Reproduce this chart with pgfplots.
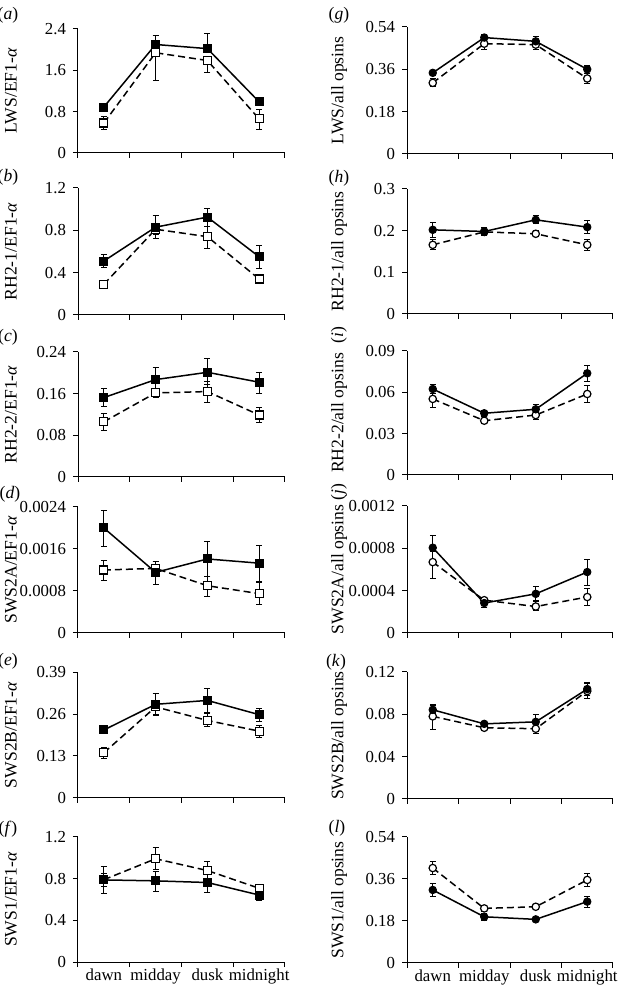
\documentclass[border=0pt]{standalone}
\usepackage{fontspec}
\setmainfont{Liberation Serif}
\usepackage{pgfplots}
\pgfplotsset{compat=1.18}
\pgfplotsset{
 base/.style={scale only axis, anchor=south west, xmin=0, xmax=4, ymin=0,
  xtick={0,1,2,3,4}, xticklabels={}, axis x line*=bottom, axis y line*=left,
  tick align=outside, major tick length=2.5pt,
  every tick/.style={black, line width=0.5pt}, axis line style={black, line width=0.5pt},
  scaled y ticks=false, clip=false,
  tick label style={font=\fontsize{8.4}{9}\selectfont},
  /pgf/number format/assume math mode=true,
  every axis y label/.style={rotate=90, anchor=center, font=\fontsize{8.8}{10}\selectfont},
 },
 L/.style={base, width=103.5pt, every axis y label/.append style={at={(axis description cs:-0.3237,0.5)}}},
 R/.style={base, width=103pt, every axis y label/.append style={at={(axis description cs:-0.330,0.5)}}},
 bottomlab/.style={x tick label as interval, xticklabels={dawn,midday,dusk,midnight}, xticklabel style={yshift=2.5pt}},
 eb/.style={error bars/.cd, y dir=both, y explicit,
   error bar style={solid, black, line width=0.45pt},
   error mark options={rotate=90, mark size=1.5pt, line width=0.45pt, solid, black}},
 FS/.style={black, solid, line width=0.75pt, mark=square*, mark size=2pt, mark options={fill=black, solid, line width=0.5pt}, eb},
 OS/.style={black, dash pattern=on 3.5pt off 2pt, line width=0.75pt, mark=square*, mark size=2pt, mark options={fill=white, solid, line width=0.6pt}, eb},
 FC/.style={black, solid, line width=0.75pt, mark=*, mark size=1.85pt, mark options={fill=black, solid, line width=0.5pt}, eb},
 OC/.style={black, dash pattern=on 3.5pt off 2pt, line width=0.75pt, mark=*, mark size=1.85pt, mark options={fill=white, solid, line width=0.6pt}, eb},
}
\newcommand{\plab}[1]{\fontsize{8.8}{10}\selectfont(\textit{#1})}
\begin{document}
\begin{tikzpicture}
\useasboundingbox (0,0) rectangle (310.5pt,492.5pt);
% (a)
\begin{axis}[L, at={(39pt,416pt)}, height=62pt, ymax=2.4, ytick={0,0.8,1.6,2.4}, yticklabels={0,0.8,1.6,2.4}, ylabel={LWS/EF1-\textit{α}}]
\addplot[OS] coordinates {(0.5,0.58) += (0,0.12) -= (0,0.13) (1.5,1.94) += (0,0.10) -= (0,0.53) (2.5,1.79) += (0,0.08) -= (0,0.23) (3.5,0.66) += (0,0.19) -= (0,0.21)};
\addplot[FS] coordinates {(0.5,0.89) += (0,0.05) -= (0,0.05) (1.5,2.10) += (0,0.18) -= (0,0.08) (2.5,2.02) += (0,0.30) -= (0,0.08) (3.5,0.99) += (0,0.05) -= (0,0.05)};
\end{axis}
% (b)
\begin{axis}[L, at={(39pt,335pt)}, height=63.5pt, ymax=1.2, ytick={0,0.4,0.8,1.2}, yticklabels={0,0.4,0.8,1.2}, ylabel={RH2-1/EF1-\textit{α}}]
\addplot[OS] coordinates {(0.5,0.29) += (0,0.02) -= (0,0.02) (1.5,0.81) += (0,0.05) -= (0,0.05) (2.5,0.74) += (0,0.10) -= (0,0.11) (3.5,0.34) += (0,0.03) -= (0,0.03)};
\addplot[FS] coordinates {(0.5,0.51) += (0,0.06) -= (0,0.06) (1.5,0.83) += (0,0.11) -= (0,0.11) (2.5,0.925) += (0,0.085) -= (0,0.085) (3.5,0.55) += (0,0.11) -= (0,0.11)};
\end{axis}
% (c)
\begin{axis}[L, at={(39pt,254pt)}, height=62.5pt, ymax=0.24, ytick={0,0.08,0.16,0.24}, yticklabels={0,0.08,0.16,0.24}, ylabel={RH2-2/EF1-\textit{α}}]
\addplot[OS] coordinates {(0.5,0.106) += (0,0.016) -= (0,0.016) (1.5,0.1615) += (0,0.008) -= (0,0.008) (2.5,0.164) += (0,0.02) -= (0,0.021) (3.5,0.119) += (0,0.014) -= (0,0.014)};
\addplot[FS] coordinates {(0.5,0.1525) += (0,0.018) -= (0,0.018) (1.5,0.187) += (0,0.024) -= (0,0.02) (2.5,0.201) += (0,0.026) -= (0,0.024) (3.5,0.182) += (0,0.019) -= (0,0.021)};
\end{axis}
% (d)
\begin{axis}[L, at={(39pt,176pt)}, height=63pt, ymax=0.0024, ytick={0,0.0008,0.0016,0.0024}, yticklabels={0,0.0008,0.0016,0.0024}, ylabel={SWS2A/EF1-\textit{α}}]
\addplot[OS] coordinates {(0.5,0.0012) += (0,0.00019) -= (0,0.00019) (1.5,0.00123) += (0,0.00014) -= (0,0.00014) (2.5,0.0009) += (0,0.00018) -= (0,0.0002) (3.5,0.00075) += (0,0.00021) -= (0,0.0002)};
\addplot[FS] coordinates {(0.5,0.0020) += (0,0.00034) -= (0,0.00035) (1.5,0.001155) += (0,0.0002) -= (0,0.00023) (2.5,0.00141) += (0,0.00033) -= (0,0.00033) (3.5,0.00133) += (0,0.00033) -= (0,0.00035)};
\end{axis}
% (e)
\begin{axis}[L, at={(39pt,93.5pt)}, height=63pt, ymax=0.39, ytick={0,0.13,0.26,0.39}, yticklabels={0,0.13,0.26,0.39}, ylabel={SWS2B/EF1-\textit{α}}]
\addplot[OS] coordinates {(0.5,0.140) += (0,0.018) -= (0,0.018) (1.5,0.282) += (0,0.02) -= (0,0.026) (2.5,0.240) += (0,0.021) -= (0,0.02) (3.5,0.207) += (0,0.018) -= (0,0.02)};
\addplot[FS] coordinates {(0.5,0.2105) += (0,0.01) -= (0,0.01) (1.5,0.29) += (0,0.033) -= (0,0.03) (2.5,0.302) += (0,0.036) -= (0,0.036) (3.5,0.258) += (0,0.019) -= (0,0.021)};
\end{axis}
% (f)
\begin{axis}[L, bottomlab, at={(39pt,11.5pt)}, height=62.5pt, ymax=1.2, ytick={0,0.4,0.8,1.2}, yticklabels={0,0.4,0.8,1.2}, ylabel={SWS1/EF1-\textit{α}}]
\addplot[OS] coordinates {(0.5,0.79) += (0,0.06) -= (0,0.06) (1.5,0.991) += (0,0.106) -= (0,0.106) (2.5,0.878) += (0,0.087) -= (0,0.088) (3.5,0.708) += (0,0.032) -= (0,0.042)};
\addplot[FS] coordinates {(0.5,0.788) += (0,0.13) -= (0,0.13) (1.5,0.779) += (0,0.09) -= (0,0.10) (2.5,0.763) += (0,0.09) -= (0,0.10) (3.5,0.643) += (0,0.047) -= (0,0.048)};
\end{axis}
% (g)
\begin{axis}[R, at={(203.5pt,415.5pt)}, height=63.5pt, ymax=0.54, ytick={0,0.18,0.36,0.54}, yticklabels={0,0.18,0.36,0.54}, ylabel={LWS/all opsins}]
\addplot[OC] coordinates {(0.5,0.3025) += (0,0.019) -= (0,0.017) (1.5,0.469) += (0,0.02) -= (0,0.024) (2.5,0.465) += (0,0.02) -= (0,0.02) (3.5,0.321) += (0,0.02) -= (0,0.021)};
\addplot[FC] coordinates {(0.5,0.345) += (0,0.01) -= (0,0.01) (1.5,0.495) += (0,0.015) -= (0,0.015) (2.5,0.479) += (0,0.019) -= (0,0.019) (3.5,0.360) += (0,0.017) -= (0,0.017)};
\end{axis}
% (h)
\begin{axis}[R, at={(203.5pt,335.5pt)}, height=62.5pt, ymax=0.3, ytick={0,0.1,0.2,0.3}, yticklabels={0,0.1,0.2,0.3}, ylabel={RH2-1/all opsins}]
\addplot[OC] coordinates {(0.5,0.166) += (0,0.012) -= (0,0.012) (1.5,0.197) += (0,0.005) -= (0,0.005) (2.5,0.1925) += (0,0.007) -= (0,0.007) (3.5,0.166) += (0,0.014) -= (0,0.014)};
\addplot[FC] coordinates {(0.5,0.202) += (0,0.018) -= (0,0.018) (1.5,0.198) += (0,0.01) -= (0,0.01) (2.5,0.226) += (0,0.01) -= (0,0.009) (3.5,0.2085) += (0,0.0155) -= (0,0.0145)};
\end{axis}
% (i)
\begin{axis}[R, at={(203.5pt,255pt)}, height=62pt, ymax=0.09, ytick={0,0.03,0.06,0.09}, yticklabels={0,0.03,0.06,0.09}, ylabel={RH2-2/all opsins}]
\addplot[OC] coordinates {(0.5,0.0552) += (0,0.0058) -= (0,0.0063) (1.5,0.0394) += (0,0.0015) -= (0,0.0015) (2.5,0.0435) += (0,0.0035) -= (0,0.0035) (3.5,0.0588) += (0,0.006) -= (0,0.006)};
\addplot[FC] coordinates {(0.5,0.0624) += (0,0.0034) -= (0,0.0034) (1.5,0.0448) += (0,0.002) -= (0,0.002) (2.5,0.0477) += (0,0.0036) -= (0,0.0036) (3.5,0.0738) += (0,0.006) -= (0,0.006)};
\end{axis}
% (j)
\begin{axis}[R, at={(203.5pt,176pt)}, height=63.5pt, ymax=0.0012, ytick={0,0.0004,0.0008,0.0012}, yticklabels={0,0.0004,0.0008,0.0012}, ylabel={SWS2A/all opsins}]
\addplot[OC] coordinates {(0.5,0.00067) += (0,0.0001) -= (0,0.00015) (1.5,0.00031) += (0,0.00002) -= (0,0.00002) (2.5,0.00025) += (0,0.00005) -= (0,0.00004) (3.5,0.00034) += (0,0.00008) -= (0,0.00008)};
\addplot[FC] coordinates {(0.5,0.000806) += (0,0.00012) -= (0,0.00012) (1.5,0.000283) += (0,0.00004) -= (0,0.00004) (2.5,0.00037) += (0,0.00007) -= (0,0.00006) (3.5,0.000576) += (0,0.00012) -= (0,0.00013)};
\end{axis}
% (k)
\begin{axis}[R, at={(203.5pt,93pt)}, height=63.5pt, ymax=0.12, ytick={0,0.04,0.08,0.12}, yticklabels={0,0.04,0.08,0.12}, ylabel={SWS2B/all opsins}]
\addplot[OC] coordinates {(0.5,0.0781) += (0,0.01) -= (0,0.0124) (1.5,0.0673) += (0,0.0015) -= (0,0.0015) (2.5,0.0664) += (0,0.005) -= (0,0.0047) (3.5,0.102) += (0,0.007) -= (0,0.007)};
\addplot[FC] coordinates {(0.5,0.0843) += (0,0.0047) -= (0,0.0046) (1.5,0.071) += (0,0.002) -= (0,0.002) (2.5,0.0729) += (0,0.0068) -= (0,0.0062) (3.5,0.1039) += (0,0.0061) -= (0,0.0059)};
\end{axis}
% (l)
\begin{axis}[R, bottomlab, at={(203.5pt,11pt)}, height=63pt, ymax=0.54, ytick={0,0.18,0.36,0.54}, yticklabels={0,0.18,0.36,0.54}, ylabel={SWS1/all opsins}]
\addplot[OC] coordinates {(0.5,0.407) += (0,0.028) -= (0,0.029) (1.5,0.234) += (0,0.012) -= (0,0.012) (2.5,0.241) += (0,0.012) -= (0,0.012) (3.5,0.356) += (0,0.029) -= (0,0.028)};
\addplot[FC] coordinates {(0.5,0.313) += (0,0.029) -= (0,0.026) (1.5,0.198) += (0,0.015) -= (0,0.017) (2.5,0.187) += (0,0.01) -= (0,0.01) (3.5,0.263) += (0,0.024) -= (0,0.0245)};
\end{axis}
% panel labels
\node at (4pt,485pt) {\plab{a}};
\node at (4pt,404pt) {\plab{b}};
\node at (4pt,324pt) {\plab{c}};
\node at (5pt,245.5pt) {\plab{d}};
\node at (4pt,162pt) {\plab{e}};
\node at (4pt,78pt) {\plab{f}};
\node at (169.5pt,485pt) {\plab{g}};
\node at (169.5pt,403.5pt) {\plab{h}};
\node[rotate=90] at (169.5pt,325pt) {\plab{i}};
\node[rotate=90] at (169.5pt,246.5pt) {\plab{j}};
\node at (168pt,161.5pt) {\plab{k}};
\node at (168.5pt,78.5pt) {\plab{l}};
\end{tikzpicture}
\end{document}
